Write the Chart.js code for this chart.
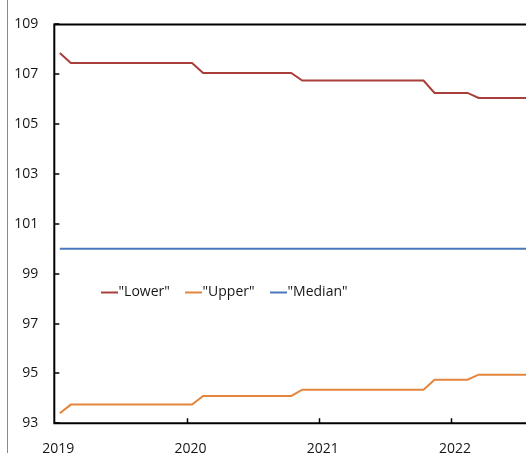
<!DOCTYPE html>
<html>
<head>
<meta charset="utf-8">
<script src="https://cdn.jsdelivr.net/npm/chart.js@4/dist/chart.umd.min.js"></script>
<style>
  html, body { margin: 0; padding: 0; background: #fff; overflow: hidden; }
  #wrap { position: relative; width: 526px; height: 453px; }
</style>
</head>
<body>
<div id="wrap"><canvas id="c" width="526" height="453"></canvas></div>
<script>
// Monthly observations, Jan 2019 – Aug 2022
const months = [
  '2019-01','2019-02','2019-03','2019-04','2019-05','2019-06','2019-07','2019-08','2019-09','2019-10','2019-11','2019-12',
  '2020-01','2020-02','2020-03','2020-04','2020-05','2020-06','2020-07','2020-08','2020-09','2020-10','2020-11','2020-12',
  '2021-01','2021-02','2021-03','2021-04','2021-05','2021-06','2021-07','2021-08','2021-09','2021-10','2021-11','2021-12',
  '2022-01','2022-02','2022-03','2022-04','2022-05','2022-06','2022-07','2022-08'
];
const lower = [
  107.85,
  107.45,107.45,107.45,107.45,107.45,107.45,107.45,107.45,107.45,107.45,107.45,107.45,
  107.05,107.05,107.05,107.05,107.05,107.05,107.05,107.05,107.05,
  106.75,106.75,106.75,106.75,106.75,106.75,106.75,106.75,106.75,106.75,106.75,106.75,
  106.25,106.25,106.25,106.25,
  106.05,106.05,106.05,106.05,106.05,106.05
];
const upper = [
  93.4,
  93.75,93.75,93.75,93.75,93.75,93.75,93.75,93.75,93.75,93.75,93.75,93.75,
  94.1,94.1,94.1,94.1,94.1,94.1,94.1,94.1,94.1,
  94.35,94.35,94.35,94.35,94.35,94.35,94.35,94.35,94.35,94.35,94.35,94.35,
  94.75,94.75,94.75,94.75,
  94.95,94.95,94.95,94.95,94.95,94.95
];
const median = [
  100,100,100,100,100,100,100,100,100,100,100,100,
  100,100,100,100,100,100,100,100,100,100,100,100,
  100,100,100,100,100,100,100,100,100,100,100,100,
  100,100,100,100,100,100,100,100
];
const tickYears = [2019, 2020, 2021, 2022];
const yTicks = [93, 95, 97, 99, 101, 103, 105, 107, 109];
const seriesNames = ['"Lower"', '"Upper"', '"Median"'];

const BASE_YEAR = 2019;
// months since Jan 2019, each point placed mid-month
function monthPos(m) {
  const [y, mo] = m.split('-').map(Number);
  return (y - BASE_YEAR) * 12 + (mo - 1) + 0.5;
}
function toPoints(vals) {
  return vals.map((v, i) => ({ x: monthPos(months[i]), y: v }));
}

const FONT = '"Open Sans", "Noto Sans", sans-serif';
const TEXT = '#161616';

// frame, inward tick marks and the in-plot legend
const decor = {
  id: 'decor',
  beforeDraw(chart) {
    const ctx = chart.ctx;
    ctx.save();
    ctx.strokeStyle = '#8a8a8a';
    ctx.lineWidth = 1;
    ctx.beginPath();
    ctx.moveTo(7.5, 0);
    ctx.lineTo(7.5, chart.height);
    ctx.stroke();
    ctx.restore();
  },
  afterDraw(chart) {
    const { ctx, chartArea: a, scales } = chart;
    ctx.save();
    ctx.strokeStyle = '#000';
    ctx.lineWidth = 2;
    ctx.beginPath();
    ctx.moveTo(chart.width + 2, a.top);
    ctx.lineTo(a.left, a.top);
    ctx.lineTo(a.left, a.bottom);
    ctx.lineTo(chart.width + 2, a.bottom);
    ctx.stroke();

    ctx.lineWidth = 1.5;
    ctx.beginPath();
    scales.y.ticks.forEach(t => {
      const py = Math.round(scales.y.getPixelForValue(t.value));
      ctx.moveTo(a.left, py);
      ctx.lineTo(a.left + 5, py);
    });
    scales.x.ticks.forEach(t => {
      const px = Math.round(scales.x.getPixelForValue(t.value)) + 0.5;
      if (px <= a.left + 2) return;
      ctx.moveTo(px, a.bottom);
      ctx.lineTo(px, a.bottom - 5);
    });
    ctx.stroke();

    // legend
    ctx.font = '14px ' + FONT;
    ctx.textBaseline = 'middle';
    const starts = [101, 185, 270];
    chart.data.datasets.forEach((ds, i) => {
      const lx = starts[i];
      const ly = 292.5;
      ctx.strokeStyle = ds.borderColor;
      ctx.lineWidth = 2;
      ctx.beginPath();
      ctx.moveTo(lx, ly);
      ctx.lineTo(lx + 17, ly);
      ctx.stroke();
      ctx.fillStyle = TEXT;
      ctx.fillText(ds.label, lx + 17.5, ly);
    });
    ctx.restore();
  }
};

new Chart(document.getElementById('c'), {
  type: 'line',
  data: {
    datasets: [
      { label: seriesNames[0], data: toPoints(lower), borderColor: '#A83F3B' },
      { label: seriesNames[1], data: toPoints(upper), borderColor: '#E3853C' },
      { label: seriesNames[2], data: toPoints(median), borderColor: '#4A78BE' }
    ]
  },
  options: {
    responsive: false,
    animation: false,
    devicePixelRatio: 1,
    layout: { padding: { top: 24, right: 0, bottom: 0, left: 0 } },
    elements: {
      line: { borderWidth: 2, tension: 0 },
      point: { radius: 0 }
    },
    plugins: { legend: { display: false }, tooltip: { enabled: false } },
    scales: {
      x: {
        type: 'linear',
        min: 0,
        max: 42.8,
        grid: { display: false, drawTicks: false },
        border: { display: false },
        afterBuildTicks(scale) {
          scale.ticks = tickYears.map(y => ({ value: (y - BASE_YEAR) * 12 }));
        },
        afterFit(scale) { scale.height = 29.7; },
        ticks: {
          padding: 17,
          labelOffset: 4,
          maxRotation: 0,
          autoSkip: false,
          color: TEXT,
          font: { family: FONT, size: 14 },
          callback: v => String(BASE_YEAR + Math.round(v / 12))
        }
      },
      y: {
        min: 93,
        max: 109,
        grid: { display: false, drawTicks: false },
        border: { display: false },
        afterBuildTicks(scale) {
          scale.ticks = yTicks.map(v => ({ value: v }));
        },
        afterFit(scale) { scale.width = 54.3; },
        ticks: {
          padding: 16,
          color: TEXT,
          font: { family: FONT, size: 14 },
          callback: v => String(v)
        }
      }
    }
  },
  plugins: [decor]
});
</script>
</body>
</html>
